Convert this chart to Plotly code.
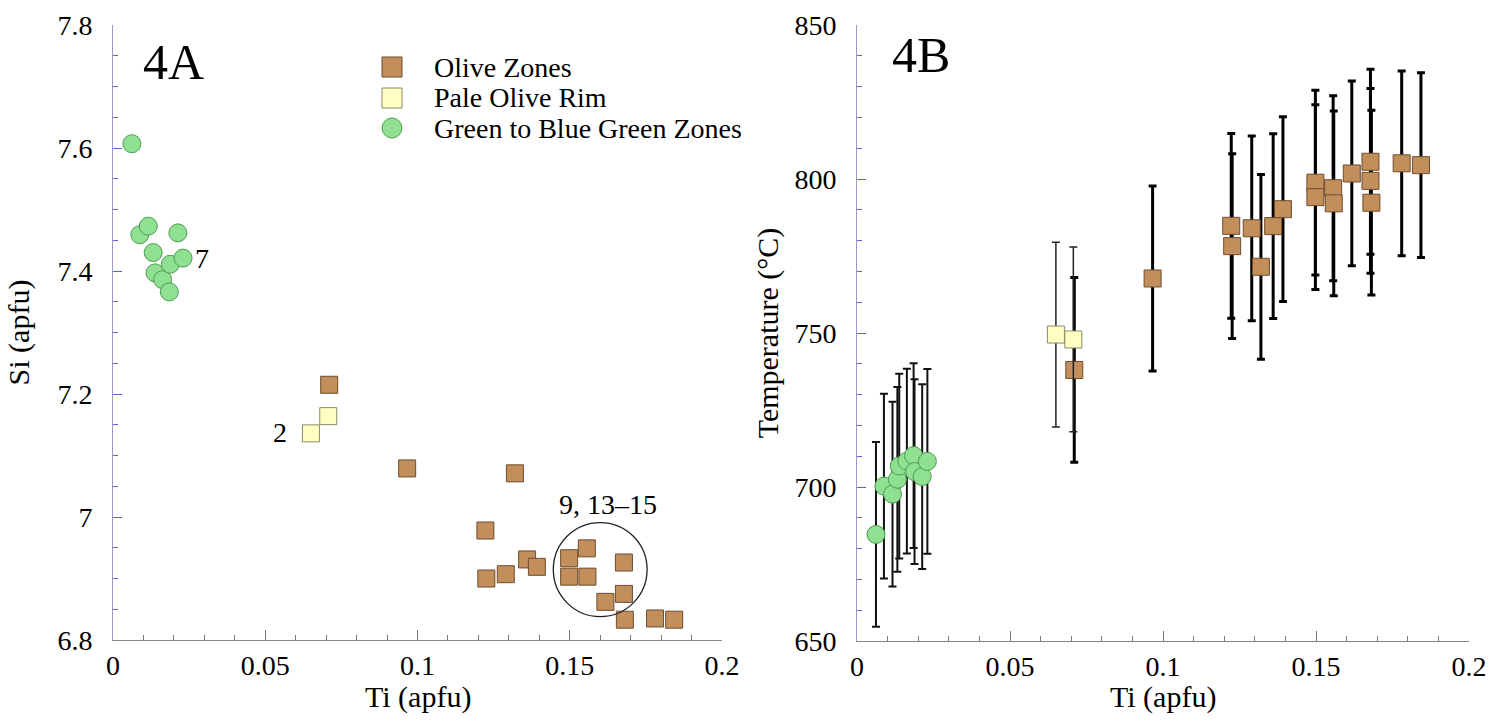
import plotly.graph_objects as go

# Olive zones
olive_ti = [0.0710, 0.0966, 0.1223, 0.1226, 0.1290, 0.1320, 0.1360, 0.1392,
            0.1498, 0.1498, 0.1556, 0.1558, 0.1617, 0.1678, 0.1678, 0.1681,
            0.1780, 0.1843]
olive_si = [7.215, 7.079, 6.978, 6.900, 6.907, 7.071, 6.931, 6.919,
            6.933, 6.903, 6.949, 6.903, 6.862, 6.926, 6.875, 6.833,
            6.835, 6.833]
olive_t = [738.0, 767.7, 784.8, 778.2, 784.0, 771.5, 784.7, 790.2,
           798.8, 794.1, 797.0, 792.1, 801.8, 805.6, 799.4, 792.3,
           805.1, 804.5]
olive_err = [30] * len(olive_ti)

# Pale olive rim
pale_ti = [0.0650, 0.0707]
pale_si = [7.136, 7.164]
pale_t = [749.5, 747.9]
pale_err = [30, 30]

# Green to blue green zones
green_ti = [0.0062, 0.0088, 0.0116, 0.0132, 0.0138, 0.0163, 0.0185, 0.0188,
            0.0213, 0.0230]
green_si = [7.607, 7.459, 7.473, 7.430, 7.397, 7.386, 7.366, 7.411,
            7.462, 7.421]
green_t = [684.6, 700.3, 697.7, 702.5, 706.8, 708.4, 710.2, 705.0,
           703.4, 708.3]
green_err = [30] * len(green_ti)

x_ticks = [0, 0.05, 0.1, 0.15, 0.2]
x_tick_text = ["0", "0.05", "0.1", "0.15", "0.2"]
si_ticks = [6.8, 7.0, 7.2, 7.4, 7.6, 7.8]
si_tick_text = ["6.8", "7", "7.2", "7.4", "7.6", "7.8"]
t_ticks = [650, 700, 750, 800, 850]

legend_names = ["Olive Zones", "Pale Olive Rim", "Green to Blue Green Zones"]

OLIVE = "#C18E5C"
OLIVE_EDGE = "#6E4E2E"
PALE = "#FFFFC2"
PALE_EDGE = "#8A8A6A"
GREEN = "#8FE090"
GREEN_EDGE = "#4E9A55"
SERIF = "Liberation Serif"
W, H = 1512, 723

fig = go.Figure()

# ---- 4A: Si vs Ti ----
fig.add_trace(go.Scatter(
    x=olive_ti, y=olive_si, mode="markers", name=legend_names[0],
    marker=dict(symbol="square", size=17, color=OLIVE,
                line=dict(color=OLIVE_EDGE, width=1)),
    xaxis="x", yaxis="y"))
fig.add_trace(go.Scatter(
    x=pale_ti, y=pale_si, mode="markers", name=legend_names[1],
    marker=dict(symbol="square", size=17, color=PALE,
                line=dict(color=PALE_EDGE, width=1)),
    xaxis="x", yaxis="y"))
fig.add_trace(go.Scatter(
    x=green_ti, y=green_si, mode="markers", name=legend_names[2],
    marker=dict(symbol="circle", size=18, color=GREEN,
                line=dict(color=GREEN_EDGE, width=1)),
    xaxis="x", yaxis="y"))

# ---- 4B: Temperature vs Ti ----
fig.add_trace(go.Scatter(
    x=olive_ti, y=olive_t, mode="markers",
    error_y=dict(type="data", array=olive_err, color="black",
                 thickness=3, width=4),
    marker=dict(symbol="square", size=17, color=OLIVE,
                line=dict(color=OLIVE_EDGE, width=1)),
    xaxis="x2", yaxis="y2"))
fig.add_trace(go.Scatter(
    x=pale_ti, y=pale_t, mode="markers",
    error_y=dict(type="data", array=pale_err, color="#222222",
                 thickness=1.5, width=4),
    marker=dict(symbol="square", size=17, color=PALE,
                line=dict(color=PALE_EDGE, width=1)),
    xaxis="x2", yaxis="y2"))
fig.add_trace(go.Scatter(
    x=green_ti, y=green_t, mode="markers",
    error_y=dict(type="data", array=green_err, color="#111111",
                 thickness=2, width=4),
    marker=dict(symbol="circle", size=18, color=GREEN,
                line=dict(color=GREEN_EDGE, width=1)),
    xaxis="x2", yaxis="y2"))

tick_font = dict(family=SERIF, size=28, color="black")
title_font = dict(family=SERIF, size=30, color="black")

x_common = dict(
    range=[0, 0.2], tickvals=x_ticks, ticktext=x_tick_text,
    ticks="inside", ticklen=10, tickwidth=1, tickcolor="#777777",
    minor=dict(ticks="inside", ticklen=5, dtick=0.01, tickcolor="#777777",
               tickwidth=1, tick0=0),
    showline=True, linecolor="#888888", linewidth=1,
    showgrid=False, zeroline=False, tickfont=tick_font,
    ticklabelstandoff=0, automargin=False,
)
y_common = dict(
    ticks="inside", ticklen=9, tickwidth=1, tickcolor="#6060D0",
    showline=True, linecolor="#9A9AC8", linewidth=1,
    showgrid=False, zeroline=False, tickfont=tick_font,
    ticklabelstandoff=14, automargin=False,
)

fig.update_layout(
    width=W, height=H,
    margin=dict(l=0, r=0, t=0, b=0, autoexpand=False),
    paper_bgcolor="white", plot_bgcolor="white",
    font=dict(family=SERIF, color="black"),
    showlegend=False,
    xaxis=dict(domain=[113 / W, 722 / W], anchor="y", **x_common),
    yaxis=dict(domain=[1 - 640 / H, 1 - 25 / H], anchor="x",
               range=[6.8, 7.8], tickvals=si_ticks, ticktext=si_tick_text,
               minor=dict(ticks="inside", ticklen=5, dtick=0.05, tick0=6.8,
                          tickcolor="#6060D0", tickwidth=1),
               title=dict(text="Si (apfu)", font=title_font, standoff=18),
               **y_common),
    xaxis2=dict(domain=[857 / W, 1469 / W], anchor="y2", **x_common),
    yaxis2=dict(domain=[1 - 641 / H, 1 - 25 / H], anchor="x2",
                range=[650, 850], tickvals=t_ticks,
                minor=dict(ticks="inside", ticklen=5, dtick=10, tick0=650,
                           tickcolor="#6060D0", tickwidth=1),
                title=dict(text="Temperature (°C)", font=title_font,
                           standoff=6),
                **y_common),
)

# x-axis titles under both panels
for xc in (418, 1163):
    fig.add_annotation(x=xc / W, y=1 - 697 / H, xref="paper", yref="paper",
                       text="Ti (apfu)", showarrow=False,
                       xanchor="center", yanchor="middle", font=title_font)

# Legend box for panel 4A: symbol keys and labels
key_x = 392
key_rows = [67, 98, 128]
key_styles = [("rect", OLIVE, OLIVE_EDGE), ("rect", PALE, PALE_EDGE),
              ("circle", GREEN, GREEN_EDGE)]
for name, yc, (kind, fill, edge) in zip(legend_names, key_rows, key_styles):
    fig.add_shape(type=kind, xref="paper", yref="paper",
                  x0=(key_x - 10) / W, x1=(key_x + 10) / W,
                  y0=1 - (yc + 10) / H, y1=1 - (yc - 10) / H,
                  fillcolor=fill, line=dict(color=edge, width=1))
    fig.add_annotation(x=432 / W, y=1 - yc / H, xref="paper", yref="paper",
                       text=name, showarrow=False, xanchor="left",
                       yanchor="middle",
                       font=dict(family=SERIF, size=28, color="black"))

# Panel labels and point annotations
fig.add_annotation(x=0.0091, y=7.740, xref="x", yref="y", text="4A",
                   showarrow=False, xanchor="left",
                   font=dict(family=SERIF, size=50, color="black"))
fig.add_annotation(x=0.0108, y=840.3, xref="x2", yref="y2", text="4B",
                   showarrow=False, xanchor="left",
                   font=dict(family=SERIF, size=50, color="black"))
fig.add_annotation(x=0.0262, y=7.421, xref="x", yref="y", text="7",
                   showarrow=False, xanchor="left",
                   font=dict(family=SERIF, size=28, color="black"))
fig.add_annotation(x=0.0578, y=7.137, xref="x", yref="y", text="2",
                   showarrow=False, xanchor="right",
                   font=dict(family=SERIF, size=28, color="black"))
fig.add_annotation(x=0.1627, y=7.021, xref="x", yref="y", text="9, 13–15",
                   showarrow=False,
                   font=dict(family=SERIF, size=28, color="black"))

# Circle grouping analyses 9 and 13–15
fig.add_shape(type="circle", xref="x", yref="y",
              x0=0.1446, x1=0.1754, y0=6.838, y1=6.991,
              line=dict(color="#222222", width=1.3))

fig.write_html("out.html")
